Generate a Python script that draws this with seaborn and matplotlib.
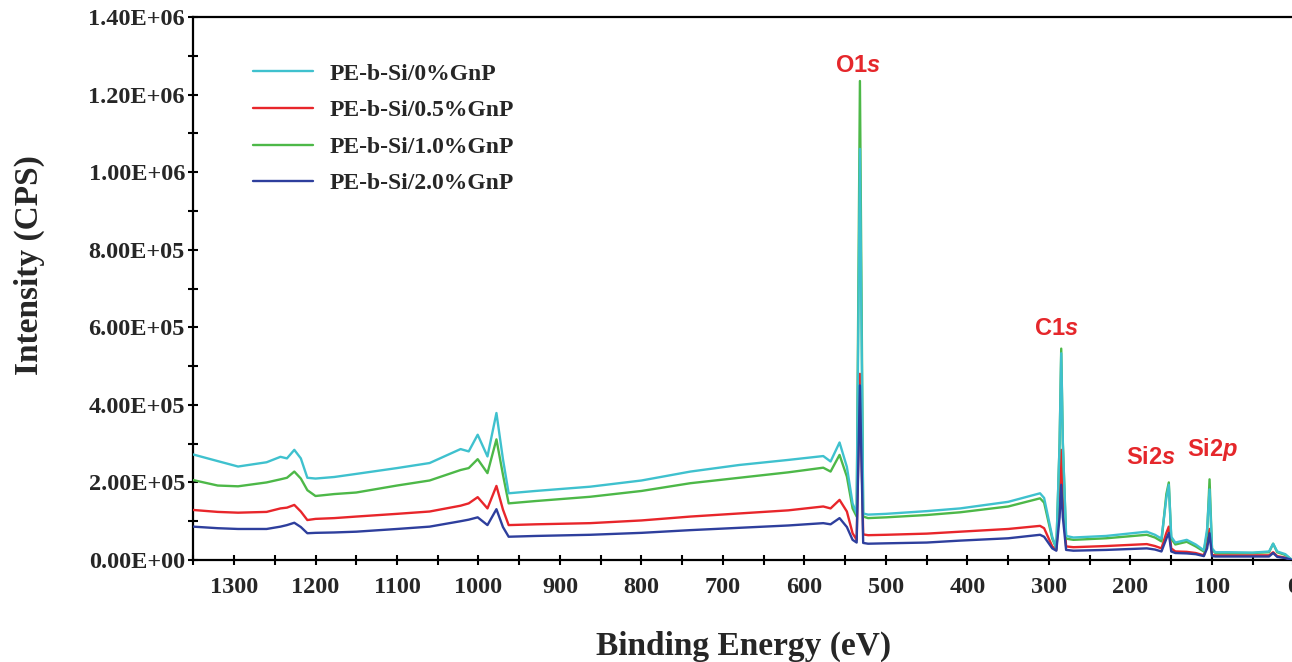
import numpy as np
import pandas as pd
import matplotlib
matplotlib.use("Agg")
import matplotlib.pyplot as plt
from matplotlib.ticker import MultipleLocator, FuncFormatter
import seaborn as sns

# ---------------- data (binding energy in eV, intensity in kCPS) ----------------
energy = [1350, 1320, 1295, 1260, 1243, 1235, 1226, 1218, 1210, 1200, 1177, 1150,
          1100, 1060, 1022, 1012, 1001, 989, 978, 970, 963, 930, 863, 800, 740,
          680, 620, 577, 568, 557, 548, 541, 536, 532, 528, 522, 500, 450, 409,
          350, 311, 306, 296, 291, 287, 285, 283, 279, 270, 230, 180, 170, 162,
          156, 153, 150, 145, 131, 120, 110, 106, 103, 100, 96, 80, 50, 30, 25,
          20, 10, 3]

gnp_0 = [272, 255, 241, 252, 266, 262, 284, 262, 212, 210, 214, 222,
         237, 250, 286, 280, 323, 267, 379, 260, 172, 178, 189, 205, 228,
         245, 258, 268, 254, 303, 240, 146, 120, 1060, 120, 117, 119, 126, 133,
         150, 172, 160, 60, 30, 300, 533, 300, 62, 58, 62, 73, 65, 55,
         160, 194, 60, 45, 52, 40, 25, 80, 182, 30, 20, 20, 19, 22, 42,
         22, 15, 2]

gnp_05 = [129, 124, 122, 124, 133, 135, 142, 125, 103, 106, 108, 112,
          119, 125, 140, 146, 162, 133, 191, 130, 90, 92, 95, 102, 112,
          120, 128, 138, 133, 155, 125, 69, 52, 480, 66, 64, 65, 68, 73,
          80, 88, 82, 35, 26, 150, 284, 150, 35, 33, 36, 41, 36, 30,
          70, 86, 30, 22, 21, 18, 12, 40, 80, 13, 12, 12, 12, 12, 20,
          10, 6, 1]

gnp_10 = [206, 192, 190, 200, 208, 212, 228, 210, 180, 165, 170, 174,
          192, 205, 232, 237, 260, 224, 311, 220, 146, 152, 163, 178, 198,
          212, 226, 238, 228, 271, 215, 133, 112, 1235, 112, 108, 110, 116, 123,
          138, 159, 148, 55, 30, 300, 545, 300, 55, 52, 56, 65, 58, 48,
          170, 200, 55, 40, 47, 35, 22, 70, 208, 28, 18, 18, 18, 20, 42,
          20, 13, 2]

gnp_20 = [86, 82, 80, 80, 86, 90, 96, 85, 69, 70, 71, 73,
          80, 86, 100, 104, 110, 90, 131, 85, 60, 62, 65, 70, 77,
          83, 89, 95, 92, 108, 85, 52, 45, 450, 44, 42, 43, 45, 50,
          56, 65, 60, 30, 24, 110, 194, 110, 26, 24, 26, 30, 27, 22,
          55, 70, 22, 18, 17, 15, 10, 30, 69, 10, 9, 9, 9, 9, 18,
          8, 5, 1]

series_labels = ["PE-b-Si/0%GnP", "PE-b-Si/0.5%GnP", "PE-b-Si/1.0%GnP", "PE-b-Si/2.0%GnP"]
series_values = [gnp_0, gnp_05, gnp_10, gnp_20]
series_colors = ["#3FC1CE", "#E8262B", "#4DB848", "#2E3F9D"]
draw_order = [1, 2, 0, 3]

peak_names = ["O1", "C1", "Si2", "Si2"]
peak_orbitals = ["s", "s", "s", "p"]
peak_energy = [534, 291, 175, 99]
peak_text_y = [1.257e6, 5.81e5, 2.48e5, 2.67e5]

x_ticks = list(range(0, 1301, 100))
y_ticks = [0, 2e5, 4e5, 6e5, 8e5, 1.0e6, 1.2e6, 1.4e6]

# ---------------- dataframe ----------------
frames = []
for lab, vals in zip(series_labels, series_values):
    frames.append(pd.DataFrame({"energy": energy,
                                "intensity": np.array(vals, dtype=float) * 1000.0,
                                "sample": lab}))
df = pd.concat(frames, ignore_index=True)

# ---------------- style ----------------
sns.set_theme(style="white")
plt.rcParams["font.family"] = ["Liberation Serif", "DejaVu Serif"]
plt.rcParams["font.weight"] = "bold"
plt.rcParams["axes.labelweight"] = "bold"
plt.rcParams["mathtext.fontset"] = "custom"
plt.rcParams["mathtext.rm"] = "Liberation Sans:bold"
plt.rcParams["mathtext.bf"] = "Liberation Sans:bold"
plt.rcParams["mathtext.it"] = "Liberation Sans:italic:bold"

W, H = 1292, 662
fig = plt.figure(figsize=(W / 100, H / 100), dpi=100)
left_px, right_px, top_px, bottom_px = 193.25, 1293.5, 17, 560
ax = fig.add_axes([left_px / W, 1 - bottom_px / H,
                   (right_px - left_px) / W, (bottom_px - top_px) / H])

for i in draw_order:
    lab = series_labels[i]
    sns.lineplot(data=df[df["sample"] == lab], x="energy", y="intensity",
                 color=series_colors[i], linewidth=1.7, sort=False,
                 estimator=None, ax=ax, label=lab, zorder=3 + draw_order.index(i))

ax.set_xlim(1350, 0)
ax.set_ylim(0, 1.4e6)
ax.set_xticks(x_ticks)
ax.xaxis.set_minor_locator(MultipleLocator(50))
ax.set_yticks(y_ticks)
ax.yaxis.set_minor_locator(MultipleLocator(1e5))
ax.yaxis.set_major_formatter(FuncFormatter(lambda v, p: f"{v:.2E}"))

for s in ["left", "bottom", "top"]:
    ax.spines[s].set_visible(True)
    ax.spines[s].set_color("black")
    ax.spines[s].set_linewidth(1.6)
ax.spines["right"].set_visible(False)

ax.tick_params(axis="both", which="both", direction="inout", length=7, width=1.5,
               color="black", bottom=True, left=True, top=False, right=False)
ax.tick_params(axis="x", which="major", labelsize=17.5, pad=9)
ax.tick_params(axis="y", which="major", labelsize=17.5, pad=2.5)
for t in ax.get_xticklabels() + ax.get_yticklabels():
    t.set_fontweight("bold")

ax.set_xlabel("Binding Energy (eV)", fontsize=24, fontweight="bold")
ax.set_ylabel("Intensity (CPS)", fontsize=24, fontweight="bold")
ax.xaxis.set_label_coords(0.5, -0.131)
ax.yaxis.set_label_coords(-0.1345, 0.543)

handles, labels = ax.get_legend_handles_labels()
hmap = dict(zip(labels, handles))
ax.legend([hmap[l] for l in series_labels], series_labels,
          loc="upper left", bbox_to_anchor=(253 / W, 1 - 63 / H),
          bbox_transform=fig.transFigure, frameon=False,
          prop={"family": "Liberation Serif", "weight": "bold", "size": 17},
          handlelength=2.55, handletextpad=0.7, labelspacing=0.64,
          borderpad=0, borderaxespad=0)

for name, orb, ex, ey in zip(peak_names, peak_orbitals, peak_energy, peak_text_y):
    ax.text(ex, ey, r"$\mathrm{" + name + r"}\mathit{" + orb + r"}$",
            color="#E5272B", fontsize=17, ha="center", va="baseline", zorder=10)

fig.savefig("out.png", dpi=100)
